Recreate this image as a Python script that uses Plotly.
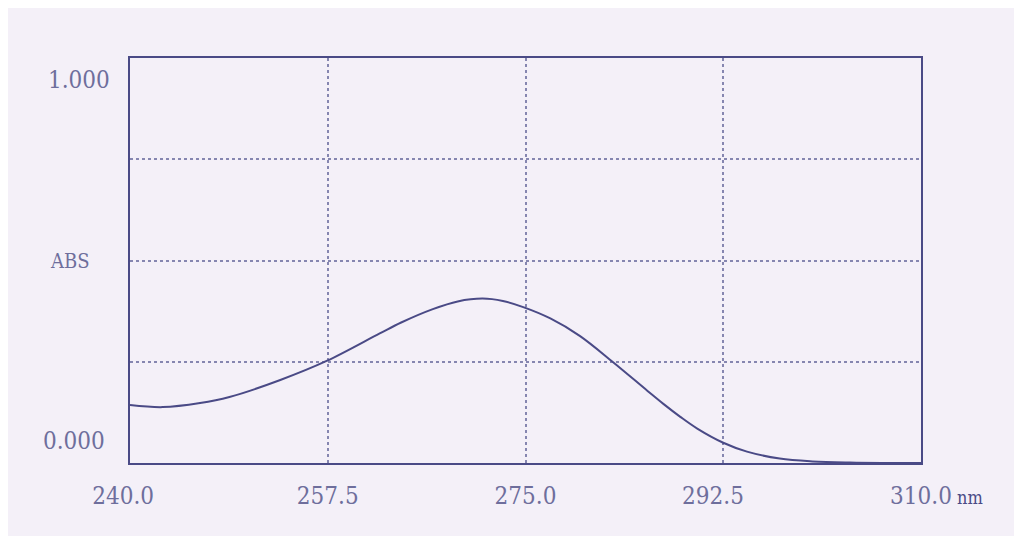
import plotly.graph_objects as go

# Wavelength (nm) and absorbance
wavelength = [240.0, 242.9, 246.2, 248.8, 253.3, 257.4, 262.1, 264.0, 266.8,
              269.0, 271.2, 273.0, 274.8, 277.2, 279.8, 282.7, 285.8, 287.2,
              288.7, 290.2, 292.5, 294.6, 297.5, 300.4, 303.7, 306.5, 310.0]
absorbance = [0.143, 0.138, 0.148, 0.163, 0.205, 0.252, 0.320, 0.347, 0.380,
              0.399, 0.406, 0.400, 0.385, 0.357, 0.314, 0.250, 0.178, 0.146,
              0.114, 0.085, 0.050, 0.028, 0.011, 0.004, 0.001, 0.000, 0.000]

x_tick_vals = [240.0, 257.5, 275.0, 292.5, 310.0]
x_tick_text = ["240.0\u00a0\u00a0", "257.5", "275.0", "292.5\u00a0\u00a0\u00a0", "310.0"]
y_grid_vals = [0.25, 0.5, 0.75]

ink = "#4a4a86"
label_color = "#6e6e9c"
grid_color = "#8686b0"
bg = "#f4f0f8"
font_family = "DejaVu Serif Condensed, DejaVu Serif, serif"

fig = go.Figure()
fig.add_trace(go.Scatter(
    x=wavelength, y=absorbance, mode="lines",
    line=dict(color=ink, width=2, shape="spline", smoothing=1.0),
    hoverinfo="skip", showlegend=False,
))

fig.update_layout(
    width=1014, height=528,
    margin=dict(l=122, r=101, t=50, b=73),
    paper_bgcolor=bg, plot_bgcolor=bg,
    showlegend=False,
    font=dict(family=font_family, color=label_color, size=24),
)

fig.update_xaxes(
    range=[240, 310], tickmode="array", tickvals=x_tick_vals, ticktext=x_tick_text,
    showgrid=True, gridcolor=grid_color, griddash="dot", gridwidth=1.5,
    showline=True, linecolor=ink, linewidth=2, mirror=True,
    ticks="", zeroline=False, ticklabelstandoff=10,
    tickfont=dict(family=font_family, color=label_color, size=24),
)
fig.update_yaxes(
    range=[0, 1], tickmode="array", tickvals=y_grid_vals, showticklabels=False,
    showgrid=True, gridcolor=grid_color, griddash="dot", gridwidth=1.5,
    showline=True, linecolor=ink, linewidth=2, mirror=True,
    ticks="", zeroline=False,
)

y_labels = [("1.000", 0.946, -0.064, 24), ("ABS", 0.5, -0.076, 20), ("0.000", 0.054, -0.071, 24)]
for txt, yp, xp, fs in y_labels:
    fig.add_annotation(
        x=xp, y=yp, xref="paper", yref="paper", text=txt, showarrow=False,
        xanchor="center", yanchor="middle",
        font=dict(family=font_family, color=label_color, size=fs),
    )

fig.add_annotation(
    x=1.043, y=-0.085, xref="paper", yref="paper", text="nm", showarrow=False,
    xanchor="left", yanchor="middle",
    font=dict(family=font_family, color=ink, size=18),
)

fig.write_html("out.html")
